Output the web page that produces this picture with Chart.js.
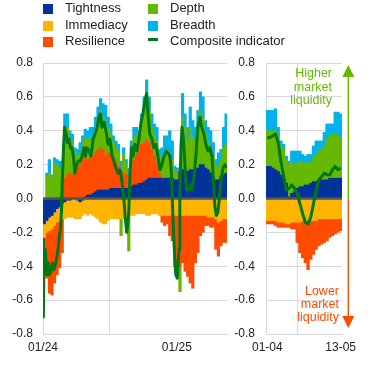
<!DOCTYPE html>
<html><head><meta charset="utf-8">
<script src="https://cdn.jsdelivr.net/npm/chart.js@4"></script>
<style>
html,body{margin:0;padding:0;background:#fff;}
body{width:370px;height:375px;position:relative;overflow:hidden;font-family:"Liberation Sans",Arial,sans-serif;color:#222;}
#left{position:absolute;left:0;top:0;}
#right{position:absolute;left:232px;top:0;}
.lg{position:absolute;font-size:13px;line-height:16px;white-space:nowrap;}
.lg i{position:absolute;left:-22px;top:4px;width:10px;height:10px;}
.note{position:absolute;font-size:12.5px;line-height:13.2px;text-align:right;white-space:nowrap;}
</style></head>
<body>
<canvas id="left" width="232" height="375"></canvas>
<canvas id="right" width="138" height="375"></canvas>
<div id="legend"></div>
<div class="note" style="right:38px;top:67.4px;color:#65B800">Higher<br>market<br>liquidity</div>
<div class="note" style="right:31px;top:285px;color:#FF4B00">Lower<br>market<br>liquidity</div>
<script>
// ---- series meta ----
const seriesNames  = ['Tightness','Immediacy','Resilience','Depth','Breadth'];
const seriesColors = ['#003299','#FFB400','#FF4B00','#65B800','#00B1EA'];
const compName = 'Composite indicator';
const compColor = '#007816';

// ---- left panel: weekly bars, days since 2024-01-01 (week start) ----
const leftWeekDay = [0,7,14,21,28,35,42,49,56,63,70,77,84,91,98,105,112,119,126,133,140,147,154,161,168,175,182,189,196,203,210,217,224,231,238,245,252,259,266,273,280,287,294,301,308,315,322,329,336,343,350,357,364,371,378,385,392,399,406,413,420,427,434,441,448,455,462,469,476,483,490,497,504];
const leftTight = [-0.15,-0.13,-0.11,-0.10,-0.08,-0.06,-0.05,-0.03,-0.02,-0.01, -0.01,0.00,0.00,-0.01,-0.02,-0.01,0.01,0.02,0.02,0.03, 0.04,0.05,0.05,0.05,0.05,0.05,0.06,0.06,0.06,0.06, 0.06,0.06,0.06,0.06,0.07,0.08,0.08,0.09,0.09,0.10, 0.11,0.12,0.12,0.12,0.12,0.12,0.12,0.12,0.12,0.12, 0.12,0.11,0.11,0.16,0.17,0.17,0.16,0.17,0.17,0.17, 0.18,0.20,0.20,0.18,0.17,0.15,0.13,0.11,0.11,0.13, 0.14,0.15,0.15];
const leftImm = [-0.08,-0.07,-0.08,-0.08,-0.08,-0.08,-0.08,-0.09,-0.10,-0.10, -0.10,-0.11,-0.12,-0.11,-0.10,-0.09,-0.09,-0.10,-0.09,-0.10, -0.11,-0.12,-0.14,-0.15,-0.15,-0.13,-0.12,-0.12,-0.12,-0.12, -0.12,-0.12,-0.12,-0.11,-0.10,-0.10,-0.09,-0.09,-0.09,-0.09, -0.10,-0.10,-0.09,-0.09,-0.09,-0.10,-0.10,-0.10,-0.10,-0.10, -0.10,-0.10,-0.10,-0.10,-0.10,-0.10,-0.10,-0.10,-0.10,-0.10, -0.10,-0.10,-0.10,-0.10,-0.11,-0.11,-0.11,-0.12,-0.14,-0.13, -0.12,-0.12,-0.12];
const leftRes = [-0.15,-0.27,-0.37,-0.39,-0.34,-0.31,-0.28,-0.20,0.12,0.14, 0.15,0.14,0.17,0.19,0.20,0.23,0.23,0.21,0.22,0.22, 0.23,0.24,0.25,0.24,0.20,0.22,0.20,0.18,0.16,0.13, 0.11,0.09,0.08,0.08,0.12,0.15,0.18,0.19,0.23,0.23, 0.24,0.21,0.17,0.13,0.09,0.03,-0.04,-0.06,-0.05,-0.12, -0.15,-0.30,-0.33,-0.30,-0.28,-0.33,-0.36,-0.40,-0.43,-0.28, -0.22,-0.12,-0.10,-0.06,-0.05,-0.06,-0.06,-0.18,-0.20,-0.15, -0.14,-0.14,-0.15];
const leftDepth = [0.00,0.13,0.15,0.12,0.21,0.20,0.18,0.18,0.30,0.28, 0.19,0.20,0.10,0.06,0.07,0.10,0.12,0.12,0.12,0.11, 0.13,0.17,0.22,0.19,0.19,0.15,0.12,0.09,0.08,0.09, -0.10,0.11,0.06,-0.20,0.11,0.13,0.12,0.09,0.12,0.19, 0.25,0.19,0.13,0.13,0.13,0.10,0.11,0.17,0.13,0.15, 0.11,0.06,0.05,-0.15,0.31,0.25,0.18,0.25,0.19,0.17, 0.24,0.32,0.28,0.20,0.16,0.15,0.12,0.08,0.08,0.10, 0.16,0.17,0.15];
const leftBreadth = [0.00,0.02,0.08,0.02,0.03,0.03,0.04,0.04,0.08,0.08, 0.06,0.04,0.03,0.04,0.06,0.04,0.05,0.05,0.06,0.06, 0.08,0.08,0.07,0.08,0.11,0.06,0.06,0.04,0.04,0.04, 0.05,0.04,0.03,0.04,0.04,0.06,0.04,0.03,0.06,0.08, 0.10,0.08,0.08,0.06,0.08,0.04,0.07,0.08,0.12,0.13, 0.11,0.02,0.02,0.02,0.14,0.08,0.08,0.12,0.10,0.08, 0.10,0.11,0.12,0.08,0.09,0.10,0.08,0.04,0.08,0.06, 0.12,0.18,0.12];
// composite indicator (left), days since 2024-01-01
const leftCompDay = [0,1,3,6,10,14,18,22,26,30, 36,41,45,48,51,53,56,59,63,67, 71,75,79,83,87,92,96,101,107,112, 116,120,126,131,137,142,148,153,157,161, 167,172,178,183,189,194,199,205,210,216, 221,225,229,234,238,242,246,251,257,262, 268,273,279,283,287,292,298,303,309,314, 320,325,331,336,341,347,351,355,359,363, 367,372,374,377,380,384,388,392,396,402, 407,412,418,423,429,434,440,445,451,456, 462,466,470,474,478,482,486,492,497,502];
const leftComp = [-0.24,-0.70,-0.32,-0.30,-0.45,-0.38,-0.45,-0.42,-0.38,-0.42, -0.37,-0.30,-0.22,-0.18,-0.05,0.12,0.30,0.42,0.38,0.33, 0.35,0.30,0.30,0.25,0.15,0.20,0.22,0.22,0.25,0.30, 0.25,0.30,0.28,0.25,0.35,0.38,0.42,0.48,0.50,0.42, 0.45,0.40,0.32,0.35,0.25,0.22,0.18,0.15,0.17,0.10, 0.00,-0.12,-0.20,-0.10,0.15,0.30,0.25,0.32,0.28,0.35, 0.45,0.50,0.58,0.62,0.50,0.38,0.35,0.30,0.32,0.25, 0.17,0.20,0.25,0.28,0.27,0.25,0.15,-0.10,-0.30,-0.45, -0.47,-0.30,0.00,0.30,0.42,0.35,0.20,0.05,0.05,0.08, 0.05,0.12,0.25,0.42,0.48,0.42,0.38,0.32,0.28,0.30, 0.25,0.10,-0.05,-0.10,-0.08,0.00,0.10,0.18,0.20,0.18];
const leftTickDay = [0, 366];
const leftTickLabel = ['01/24', '01/25'];
const leftMaxDay = 503;

// ---- right panel: business days 1 Apr - 13 May 2025 ----
const rightDates = ['01-04','02-04','03-04','04-04','07-04','08-04','09-04','10-04','11-04','14-04','15-04','16-04','17-04','22-04','23-04','24-04','25-04','28-04','29-04','30-04','02-05','05-05','06-05','07-05','08-05','09-05','12-05','13-05'];
const rightTight = [0.19,0.19,0.18,0.17,0.16,0.14,0.12,0.09,0.01,0.03,0.04,0.06,0.07,0.07,0.08,0.08,0.09,0.10,0.10,0.11,0.11,0.11,0.11,0.12,0.12,0.12,0.12,0.12];
const rightImm = [-0.13,-0.13,-0.13,-0.13,-0.14,-0.14,-0.14,-0.15,-0.15,-0.14,-0.14,-0.14,-0.14,-0.13,-0.13,-0.13,-0.13,-0.13,-0.13,-0.12,-0.12,-0.12,-0.12,-0.12,-0.12,-0.12,-0.12,-0.12];
const rightRes = [-0.02,-0.02,-0.02,-0.03,-0.03,-0.03,-0.03,-0.02,-0.02,-0.04,-0.04,-0.12,-0.18,-0.22,-0.25,-0.29,-0.23,-0.20,-0.17,-0.16,-0.15,-0.14,-0.13,-0.11,-0.10,-0.09,-0.08,-0.07];
const rightDepth = [0.21,0.21,0.22,0.23,0.21,0.17,0.17,0.14,0.19,0.18,0.16,0.15,0.15,0.14,0.13,0.13,0.12,0.14,0.16,0.17,0.18,0.20,0.24,0.25,0.26,0.26,0.25,0.24];
const rightBreadth = [0.12,0.12,0.12,0.13,0.05,0.03,0.03,0.02,0.02,0.07,0.08,0.07,0.06,0.05,0.04,0.05,0.05,0.07,0.08,0.06,0.05,0.08,0.09,0.07,0.06,0.13,0.14,0.14];
const rightComp = [0.36,0.36,0.37,0.38,0.33,0.22,0.13,0.05,0.06,0.08,0.06,0.03,-0.03,-0.09,-0.14,-0.15,-0.11,-0.03,0.05,0.11,0.13,0.15,0.14,0.14,0.17,0.19,0.17,0.18];
const rightLabelIdx = [0, 27];
const rightGridPos = 22.5;

const yMin = -0.8, yMax = 0.8, yStep = 0.2;

// ---- legend (HTML) ----
(function(){
  const lg = document.getElementById('legend');
  const items = [
    [seriesNames[0], seriesColors[0], 65, 0],
    [seriesNames[1], seriesColors[1], 65, 16.8],
    [seriesNames[2], seriesColors[2], 65, 33.4],
    [seriesNames[3], seriesColors[3], 170, 0],
    [seriesNames[4], seriesColors[4], 170, 16.8],
    [compName, compColor, 170, 33.4, true]
  ];
  items.forEach(([n,c,x,y,isLine])=>{
    const d = document.createElement('div');
    d.className='lg'; d.style.left=x+'px'; d.style.top=y+'px';
    const i = document.createElement('i'); i.style.background=c;
    if(isLine){ i.style.top='4.3px'; i.style.height='3.6px'; }
    d.appendChild(i); d.appendChild(document.createTextNode(n));
    lg.appendChild(d);
  });
})();

Chart.defaults.font.family = '"Liberation Sans", Arial, sans-serif';
Chart.defaults.font.size = 12;
Chart.defaults.color = '#222';

const zeroLine = {
  id:'zeroLine',
  beforeDatasetDraw(chart, args){
    if(args.meta.type !== 'line') return;
    const {ctx, chartArea:a, scales:{y}} = chart;
    const py = y.getPixelForValue(0);
    ctx.save(); ctx.strokeStyle='#555'; ctx.lineWidth=2.3;
    ctx.beginPath(); ctx.moveTo(a.left,py); ctx.lineTo(a.right,py); ctx.stroke(); ctx.restore();
  }
};
const arrows = {
  id:'arrows',
  afterDraw(chart){
    const {ctx, chartArea:a, scales:{y}} = chart;
    const x = a.right + 6.3;
    const top = y.getPixelForValue(yMax)+2, zero = y.getPixelForValue(0), bot = y.getPixelForValue(yMin)-6;
    const hh = 12, hw = 6;
    ctx.save(); ctx.lineWidth = 1.4;
    ctx.strokeStyle = ctx.fillStyle = '#65B800';
    ctx.beginPath(); ctx.moveTo(x, top+hh-1); ctx.lineTo(x, zero); ctx.stroke();
    ctx.beginPath(); ctx.moveTo(x, top); ctx.lineTo(x-hw, top+hh); ctx.lineTo(x+hw, top+hh); ctx.closePath(); ctx.fill();
    ctx.strokeStyle = ctx.fillStyle = '#FF4B00';
    ctx.beginPath(); ctx.moveTo(x, zero); ctx.lineTo(x, bot-hh+1); ctx.stroke();
    ctx.beginPath(); ctx.moveTo(x, bot); ctx.lineTo(x-hw, bot-hh); ctx.lineTo(x+hw, bot-hh); ctx.closePath(); ctx.fill();
    ctx.restore();
  }
};

function yScale(width, pad){
  return {
    type:'linear', min:yMin, max:yMax, stacked:true,
    afterFit(s){ s.width = width; },
    grid:{ drawTicks:false, color:(c)=> (c.tick && Math.abs(c.tick.value)<1e-9) ? 'rgba(0,0,0,0)' : '#d9d9d9', lineWidth:1 },
    border:{ display:true, color:'#d9d9d9', width:1 },
    ticks:{ stepSize:yStep, padding:pad, color:'#222',
      callback:(v)=> Math.abs(v)<1e-9 ? '0.0' : Number(v).toFixed(1) }
  };
}

function barSets(xs, arrs){
  return arrs.map((arr, s)=>({
    type:'bar', label:seriesNames[s], backgroundColor:seriesColors[s], borderWidth:0,
    barPercentage:1, categoryPercentage:1, clip:0,
    data: arr.map((v,i)=>({x:xs[i], y:v}))
  }));
}

// ---- left chart ----
const leftBarX = leftWeekDay.map(d=>d+3.5);
new Chart(document.getElementById('left'), {
  data:{ datasets:[
    ...barSets(leftBarX, [leftTight,leftImm,leftRes,leftDepth,leftBreadth]),
    { type:'line', label:compName, order:-1, stack:'comp', borderColor:compColor, borderWidth:3,
      pointRadius:0, tension:0, borderJoinStyle:'round', fill:false,
      data: leftComp.map((v,i)=>({x:leftCompDay[i], y:v})) }
  ]},
  options:{
    responsive:false, animation:false, events:[],
    layout:{ padding:{ top:63, bottom:11, left:0, right:5 } },
    plugins:{ legend:{display:false}, tooltip:{enabled:false} },
    scales:{
      x:{ type:'linear', min:0, max:leftMaxDay, stacked:true, offset:false,
        afterFit(s){ s.height = 30; },
        afterBuildTicks(s){ s.ticks = leftTickDay.map(v=>({value:v})); },
        grid:{ drawTicks:false, color:'#d9d9d9' },
        border:{ display:true, color:'#d9d9d9' },
        ticks:{ autoSkip:false, maxRotation:0, padding:6, color:'#222',
          callback:(v)=>{ const k = leftTickDay.indexOf(v); return k>=0 ? leftTickLabel[k] : ''; } }
      },
      y: yScale(43, 10)
    }
  },
  plugins:[zeroLine]
});

// ---- right chart ----
const rightX = rightDates.map((d,i)=>i);
new Chart(document.getElementById('right'), {
  data:{ datasets:[
    ...barSets(rightX, [rightTight,rightImm,rightRes,rightDepth,rightBreadth]),
    { type:'line', label:compName, order:-1, stack:'comp', borderColor:compColor, borderWidth:3,
      pointRadius:0, tension:0, borderJoinStyle:'round', fill:false,
      data: rightComp.map((v,i)=>({x:rightX[i], y:v})) }
  ]},
  options:{
    responsive:false, animation:false, events:[],
    layout:{ padding:{ top:63, bottom:11, left:0, right:28 } },
    plugins:{ legend:{display:false}, tooltip:{enabled:false} },
    scales:{
      x:{ type:'linear', min:-0.5, max:rightDates.length-0.5, stacked:true, offset:false,
        afterFit(s){ s.height = 30; },
        afterBuildTicks(s){ s.ticks = [rightLabelIdx[0], rightGridPos, rightLabelIdx[1]].map(v=>({value:v})); },
        grid:{ drawTicks:false, color:(c)=> (c.tick && c.tick.value===rightGridPos) ? '#d9d9d9' : 'rgba(0,0,0,0)' },
        border:{ display:true, color:'#d9d9d9' },
        ticks:{ autoSkip:false, maxRotation:0, padding:6, color:'#222',
          callback:(v)=> rightLabelIdx.includes(v) ? rightDates[v] : '' }
      },
      y: yScale(34, 11)
    }
  },
  plugins:[zeroLine, arrows]
});
</script>
</body></html>
